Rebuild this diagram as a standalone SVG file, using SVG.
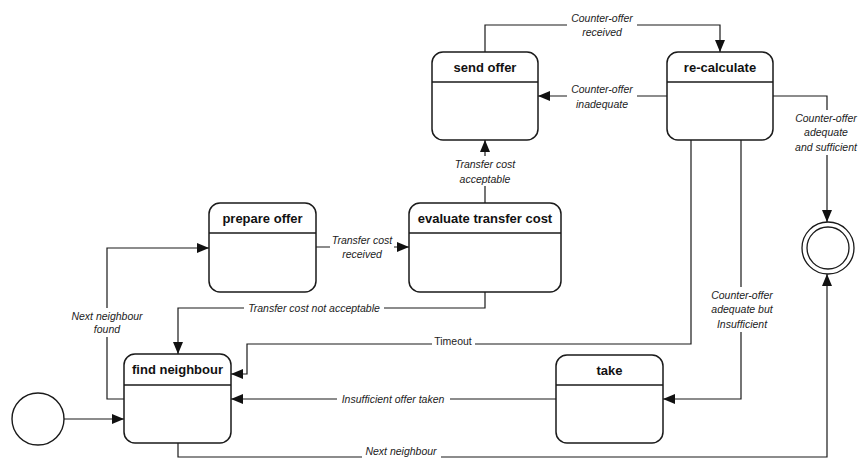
<svg xmlns="http://www.w3.org/2000/svg" width="860" height="459" viewBox="0 0 860 459">
<style>
.box{fill:#fff;stroke:#1a1a1a;stroke-width:1.5}
.div{stroke:#1a1a1a;stroke-width:1.3}
.t{font-family:"Liberation Sans",Arial,sans-serif;font-weight:bold;font-size:13px;fill:#111;text-anchor:middle;dominant-baseline:central}
.c{fill:none;stroke:#1a1a1a;stroke-width:1.2}
.l{font-family:"Liberation Sans",Arial,sans-serif;font-style:italic;font-size:10.5px;fill:#222;text-anchor:middle;dominant-baseline:central}
.u{font-style:normal}
.bg{fill:#fff}
</style>
<defs>
<marker id="ah" markerUnits="userSpaceOnUse" markerWidth="12" markerHeight="10" viewBox="0 0 12 10" refX="12" refY="5" orient="auto">
<path d="M0,0 L12,5 L0,10 Z" fill="#111"/>
</marker>
</defs>
<rect width="860" height="459" fill="#fff"/>
<g id="connectors">
<path class="c" d="M485,52 V25 H720 V52" marker-end="url(#ah)"/>
<path class="c" d="M667,96 H538" marker-end="url(#ah)"/>
<path class="c" d="M773,96 H827 V222" marker-end="url(#ah)"/>
<path class="c" d="M485,203 V140" marker-end="url(#ah)"/>
<path class="c" d="M316,247 H409" marker-end="url(#ah)"/>
<path class="c" d="M485,292 V308 H178 V354" marker-end="url(#ah)"/>
<path class="c" d="M124,399 H107 V248 H209" marker-end="url(#ah)"/>
<path class="c" d="M64,419 H124" marker-end="url(#ah)"/>
<path class="c" d="M691,140 V344 H247 V374 H231" marker-end="url(#ah)"/>
<path class="c" d="M741,140 V399 H663" marker-end="url(#ah)"/>
<path class="c" d="M556,399 H231" marker-end="url(#ah)"/>
<path class="c" d="M178,443 V457 H827 V274" marker-end="url(#ah)"/>
<rect class="bg" x="567" y="10" width="70" height="30"/>
<text class="l" x="602" y="18">Counter-offer</text>
<text class="l" x="602" y="32">received</text>
<rect class="bg" x="567" y="82" width="70" height="30"/>
<text class="l" x="602" y="89">Counter-offer</text>
<text class="l" x="602" y="104">inadequate</text>
<rect class="bg" x="791" y="110" width="69" height="45"/>
<text class="l" x="826" y="118">Counter-offer</text>
<text class="l" x="826" y="132">adequate</text>
<text class="l" x="826" y="147">and sufficient</text>
<rect class="bg" x="452" y="156" width="66" height="30"/>
<text class="l" x="485" y="164">Transfer cost</text>
<text class="l" x="485" y="179">acceptable</text>
<rect class="bg" x="330" y="232" width="64" height="30"/>
<text class="l" x="362" y="240">Transfer cost</text>
<text class="l" x="362" y="254">received</text>
<rect class="bg" x="244" y="302" width="140" height="13"/>
<text class="l" x="314" y="308">Transfer cost not acceptable</text>
<rect class="bg" x="66" y="308" width="82" height="29"/>
<text class="l" x="107" y="316">Next neighbour</text>
<text class="l" x="107" y="329">found</text>
<rect class="bg" x="432" y="334" width="43" height="14"/>
<text class="l u" x="453" y="341">Timeout</text>
<rect class="bg" x="704" y="287" width="76" height="45"/>
<text class="l" x="742" y="295">Counter-offer</text>
<text class="l" x="742" y="309">adequate but</text>
<text class="l" x="742" y="324">Insufficient</text>
<rect class="bg" x="337" y="392" width="113" height="14"/>
<text class="l" x="393" y="399">Insufficient offer taken</text>
<rect class="bg" x="362" y="444" width="79" height="15"/>
<text class="l" x="401" y="451">Next neighbour</text>
</g>
<g id="initial">
<circle cx="38" cy="419" r="26" fill="#fff" stroke="#1a1a1a" stroke-width="1.4"/>
</g>
<g id="final">
<circle cx="828" cy="248" r="26" fill="#fff" stroke="#1a1a1a" stroke-width="1.3"/>
<circle cx="828" cy="248" r="21" fill="#fff" stroke="#1a1a1a" stroke-width="1.3"/>
</g>
<g id="send-offer">
<rect class="box" x="432" y="52" width="106" height="88" rx="11"/>
<line class="div" x1="432" y1="82" x2="538" y2="82"/>
<text class="t" x="485" y="67">send offer</text>
</g>
<g id="re-calculate">
<rect class="box" x="667" y="52" width="106" height="88" rx="11"/>
<line class="div" x1="667" y1="82" x2="773" y2="82"/>
<text class="t" x="720" y="67">re-calculate</text>
</g>
<g id="prepare-offer">
<rect class="box" x="209" y="203" width="107" height="89" rx="11"/>
<line class="div" x1="209" y1="233" x2="316" y2="233"/>
<text class="t" x="262.5" y="218">prepare offer</text>
</g>
<g id="evaluate-transfer-cost">
<rect class="box" x="409" y="203" width="152" height="89" rx="11"/>
<line class="div" x1="409" y1="233" x2="561" y2="233"/>
<text class="t" x="485" y="218">evaluate transfer cost</text>
</g>
<g id="find-neighbour">
<rect class="box" x="124" y="354" width="107" height="89" rx="11"/>
<line class="div" x1="124" y1="385" x2="231" y2="385"/>
<text class="t" x="177.5" y="369">find neighbour</text>
</g>
<g id="take">
<rect class="box" x="556" y="355" width="107" height="88" rx="11"/>
<line class="div" x1="556" y1="385" x2="663" y2="385"/>
<text class="t" x="609.5" y="370">take</text>
</g>
</svg>
